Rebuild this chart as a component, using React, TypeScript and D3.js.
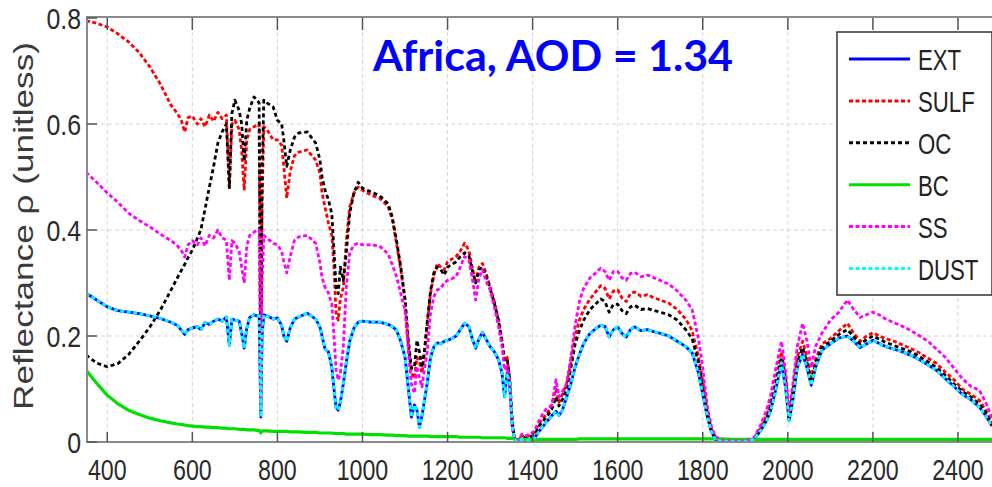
import React from "react";
import * as d3 from "d3";

const wavelengths = [
  350,375,400,425,450,475,500,525,550,
  565,575,582,590,600,612,620,630,640,650,660,670,680,687,693,
  700,710,716,722,728,735,745,752,757,761,764,768,775,790,
  800,810,815,822,830,840,850,870,890,900,905,912,920,928,933,938,943,948,955,962,970,980,990,
  1000,1020,1040,1060,1070,1080,1090,1100,
  1108,1115,1122,1128,1134,1140,1146,1152,1160,1168,1176,1184,1192,1200,
  1210,1220,1230,1240,1250,1258,1266,1274,1282,1290,1300,1310,1320,1328,1334,1340,1346,1352,
  1358,1365,1375,1385,1395,1405,1415,1425,1435,1445,1455,1462,1470,1480,1490,1500,
  1510,1520,1535,1550,1560,1570,1580,1590,1600,1610,1620,1630,1640,1655,1670,1685,1700,
  1720,1740,1760,1775,1790,1800,1810,1820,1830,1845,1870,1900,
  1920,1935,1950,1960,1972,1985,1995,2003,2012,2022,2035,2045,2055,2065,2080,2100,
  2120,2140,2155,2170,2185,2200,2215,2230,2250,2270,2290,2310,2330,2350,2370,2390,2410,2430,2450,2465,2480,
];

const ext = [
  .281,.268,.255,.248,.245,.242,.238,.233,.226,
  .22,.21,.203,.212,.215,.218,.212,.225,.222,.228,.232,.228,.236,.183,.232,
  .23,.228,.205,.177,.215,.235,.24,.238,.238,.047,.2,.24,.238,.232,
  .234,.22,.2,.19,.215,.232,.236,.243,.232,.217,.2,.175,.17,.14,.1,.065,.06,.075,.11,.15,.19,.215,.226,
  .228,.226,.226,.222,.218,.211,.19,.16,
  .1,.047,.07,.06,.028,.05,.08,.11,.16,.18,.187,.185,.19,.192,
  .195,.2,.212,.224,.218,.195,.177,.195,.207,.195,.18,.17,.155,.13,.085,.13,.11,.03,
  .003,.001,.005,.003,.005,.008,.02,.03,.04,.05,.058,.05,.06,.085,.11,.142,
  .165,.186,.205,.215,.22,.218,.198,.212,.217,.205,.198,.212,.217,.21,.212,.208,.205,
  .2,.19,.18,.168,.13,.09,.05,.02,.004,.001,.001,.001,
  .005,.02,.04,.06,.1,.15,.1,.04,.08,.14,.165,.14,.107,.14,.173,.185,
  .196,.2,.19,.178,.185,.192,.186,.18,.175,.17,.163,.155,.145,.135,.12,.105,.09,.08,.066,.05,.03,
];

const sulf = [
  .795,.79,.783,.77,.755,.735,.708,.675,.635,
  .62,.605,.585,.612,.615,.6,.61,.595,.617,.605,.622,.61,.617,.48,.6,
  .607,.59,.55,.475,.57,.59,.595,.598,.6,.1,.45,.595,.59,.57,
  .57,.56,.52,.46,.51,.54,.547,.551,.532,.507,.47,.443,.413,.39,.33,.24,.23,.27,.292,.381,.443,.47,.481,
  .475,.466,.46,.445,.42,.375,.325,.268,
  .18,.13,.12,.16,.15,.13,.17,.22,.28,.315,.337,.33,.325,.34,
  .345,.35,.36,.375,.362,.33,.3,.33,.337,.32,.293,.265,.23,.19,.155,.16,.12,.04,
  .005,.002,.012,.01,.012,.018,.035,.045,.055,.07,.1,.075,.09,.11,.15,.2,
  .23,.25,.27,.285,.295,.29,.27,.285,.287,.272,.265,.28,.283,.275,.278,.272,.268,
  .262,.25,.232,.21,.16,.115,.06,.025,.008,.002,.001,.001,
  .006,.025,.05,.075,.12,.17,.12,.05,.1,.16,.19,.16,.12,.155,.185,.195,
  .21,.224,.205,.19,.2,.206,.2,.195,.19,.183,.176,.168,.158,.148,.132,.118,.1,.09,.079,.06,.035,
];

const oc = [
  .164,.149,.142,.148,.165,.19,.217,.249,.287,
  .31,.325,.335,.348,.362,.385,.4,.44,.481,.52,.564,.585,.6,.48,.62,
  .645,.626,.6,.53,.607,.63,.651,.645,.64,.12,.5,.645,.64,.632,
  .607,.6,.57,.52,.55,.575,.583,.585,.564,.532,.5,.475,.457,.43,.36,.292,.28,.33,.305,.357,.432,.47,.49,
  .479,.472,.465,.45,.425,.38,.33,.27,
  .19,.14,.14,.192,.17,.14,.175,.225,.285,.32,.33,.325,.315,.33,
  .335,.34,.35,.357,.352,.325,.3,.325,.33,.315,.29,.262,.228,.19,.155,.158,.12,.04,
  .004,.002,.01,.008,.01,.015,.03,.04,.05,.062,.085,.068,.08,.1,.14,.185,
  .21,.23,.25,.262,.27,.265,.245,.26,.26,.248,.242,.255,.258,.25,.252,.248,.245,
  .24,.23,.212,.195,.15,.105,.055,.022,.006,.002,.001,.001,
  .005,.022,.045,.068,.11,.16,.11,.045,.09,.15,.178,.15,.112,.148,.178,.19,
  .203,.212,.198,.185,.193,.2,.194,.188,.182,.176,.17,.161,.151,.14,.126,.11,.096,.085,.072,.055,.032,
];

const bc = [
  .136,.111,.088,.072,.06,.052,.045,.04,.036,
  .034,.033,.032,.031,.03,.029,.029,.028,.028,.027,.027,.026,.026,.025,.025,
  .025,.024,.024,.024,.023,.023,.023,.022,.022,.017,.021,.021,.021,.02,
  .02,.02,.02,.02,.019,.019,.019,.018,.018,.017,.017,.017,.017,.017,.016,.016,.016,.016,.016,.015,.015,.015,.015,
  .015,.014,.014,.013,.013,.012,.012,.012,
  .011,.011,.011,.011,.011,.011,.011,.011,.01,.01,.01,.01,.01,.01,
  .01,.01,.009,.009,.009,.009,.009,.009,.008,.008,.008,.008,.008,.008,.008,.007,.007,.007,
  .006,.005,.005,.005,.005,.005,.005,.005,.005,.005,.005,.005,.005,.005,.005,.005,
  .006,.006,.006,.006,.006,.006,.006,.006,.006,.006,.006,.006,.006,.006,.006,.006,.006,
  .006,.006,.006,.006,.006,.006,.006,.006,.006,.006,.005,.005,
  .005,.005,.005,.005,.005,.005,.005,.005,.005,.005,.005,.005,.005,.005,.005,.005,
  .005,.005,.005,.005,.005,.005,.005,.005,.005,.005,.005,.005,.005,.005,.005,.005,.005,.005,.005,.005,.005,
];

const ss = [
  .509,.49,.47,.452,.432,.418,.406,.392,.38,
  .37,.36,.349,.372,.38,.372,.385,.37,.39,.385,.4,.385,.381,.305,.38,
  .375,.36,.33,.3,.37,.39,.396,.4,.4,.07,.3,.39,.385,.375,
  .372,.36,.34,.319,.35,.38,.387,.39,.375,.338,.31,.292,.281,.26,.2,.136,.117,.13,.18,.292,.357,.372,.375,
  .372,.372,.37,.355,.335,.312,.28,.249,
  .17,.11,.092,.142,.12,.104,.14,.168,.243,.275,.287,.29,.3,.305,
  .308,.312,.33,.35,.343,.31,.268,.31,.325,.305,.287,.255,.217,.18,.136,.142,.11,.03,
  .005,.003,.015,.012,.015,.022,.04,.055,.065,.068,.117,.085,.095,.11,.16,.22,
  .265,.29,.31,.32,.328,.322,.305,.322,.322,.31,.305,.318,.32,.312,.315,.31,.305,
  .298,.285,.268,.25,.195,.14,.07,.03,.01,.003,.002,.002,
  .008,.03,.06,.09,.14,.19,.13,.055,.11,.18,.224,.19,.14,.18,.205,.23,
  .245,.268,.25,.235,.24,.245,.24,.232,.225,.218,.21,.2,.19,.175,.16,.14,.12,.105,.098,.075,.045,
];

const dust = [
  .281,.268,.255,.248,.245,.242,.238,.233,.226,
  .22,.21,.203,.212,.215,.218,.212,.225,.222,.228,.232,.228,.236,.183,.232,
  .23,.228,.205,.177,.215,.235,.24,.238,.238,.047,.2,.24,.238,.232,
  .234,.22,.2,.19,.215,.232,.236,.243,.232,.217,.2,.175,.17,.14,.1,.065,.06,.075,.11,.15,.19,.215,.226,
  .228,.226,.226,.222,.218,.211,.19,.16,
  .1,.047,.07,.06,.028,.05,.08,.11,.16,.18,.187,.185,.19,.192,
  .195,.2,.212,.224,.218,.195,.177,.195,.207,.195,.18,.17,.155,.13,.085,.13,.11,.03,
  .003,.001,.005,.003,.005,.008,.02,.03,.04,.05,.058,.05,.06,.085,.11,.142,
  .165,.186,.205,.215,.22,.218,.198,.212,.217,.205,.198,.212,.217,.21,.212,.208,.205,
  .2,.19,.18,.168,.13,.09,.05,.02,.004,.001,.001,.001,
  .005,.02,.04,.06,.1,.15,.1,.04,.08,.14,.165,.14,.107,.14,.173,.185,
  .196,.2,.19,.178,.185,.192,.186,.18,.175,.17,.163,.155,.145,.135,.12,.105,.09,.08,.066,.05,.03,
];

const seriesNames = ["EXT", "SULF", "OC", "BC", "SS", "DUST"];
const seriesValues = [ext, sulf, oc, bc, ss, dust];
const seriesColors = ["#0000ff", "#ff0000", "#000000", "#00e000", "#ff00ff", "#00ffff"];
const seriesDash = ["", "4,2.5", "4,3", "", "4,2.5", "4,2.5"];

const xTicks = [400, 600, 800, 1000, 1200, 1400, 1600, 1800, 2000, 2200, 2400];
const yTicks = [0, 0.2, 0.4, 0.6, 0.8];
const yTickLabels = ["0", "0.2", "0.4", "0.6", "0.8"];
const titleText = "Africa, AOD = 1.34";
const yAxisLabel = "Reflectance ρ (unitless)";

const W = 992;
const H = 487;
const left = 87;
const right = 992;
const top = 18;
const bottom = 442;

export default function App() {
  const x = d3.scaleLinear().domain([350, 2480]).range([86, 992]);
  const y = d3.scaleLinear().domain([0, 0.8]).range([bottom, top]);
  const line = d3
    .line<[number, number]>()
    .x((d) => x(d[0]))
    .y((d) => y(d[1]));

  const axisColor = "#8a8a8a";
  const labelColor = "#2a2a2a";
  const font = "'Liberation Sans', Arial, sans-serif";

  return (
    <svg
      width={W}
      height={H}
      style={{ position: "absolute", left: 0, top: 0, background: "#fff" }}
      fontFamily={font}
    >
      <defs>
        <clipPath id="plotclip">
          <rect x={left} y={top - 2} width={right - left} height={bottom - top + 2} />
        </clipPath>
      </defs>
      <rect x={0} y={0} width={W} height={H} fill="#fff" />

      {/* grid */}
      {xTicks.map((t) => (
        <line key={"gx" + t} x1={x(t)} x2={x(t)} y1={top} y2={bottom}
          stroke="#d4d4d4" strokeWidth={1} strokeDasharray="4,3" />
      ))}
      {yTicks.slice(1, 4).map((t) => (
        <line key={"gy" + t} x1={left} x2={right} y1={y(t)} y2={y(t)}
          stroke="#d4d4d4" strokeWidth={1} strokeDasharray="4,3" />
      ))}

      {/* series */}
      <g clipPath="url(#plotclip)">
        {seriesValues.map((vals, i) => {
          const pts: [number, number][] = wavelengths
            .slice(0, vals.length)
            .map((w, k) => [w, vals[k]]);
          return (
            <path
              key={seriesNames[i]}
              d={line(pts) || ""}
              fill="none"
              stroke={seriesColors[i]}
              strokeWidth={i === 3 ? 3.2 : 2.8}
              strokeDasharray={seriesDash[i] || undefined}
              strokeLinejoin="round"
            />
          );
        })}
      </g>

      {/* axes box */}
      <line x1={left} x2={right} y1={top - 1} y2={top - 1} stroke={axisColor} strokeWidth={2} />
      <line x1={left} x2={right} y1={bottom} y2={bottom} stroke={axisColor} strokeWidth={2} />
      <line x1={left} x2={left} y1={top - 2} y2={bottom + 1} stroke={axisColor} strokeWidth={2} />
      {xTicks.map((t) => (
        <g key={"tx" + t}>
          <line x1={x(t)} x2={x(t)} y1={top} y2={top + 12} stroke="#555" strokeWidth={1.5} />
          <line x1={x(t)} x2={x(t)} y1={bottom} y2={bottom - 10} stroke="#555" strokeWidth={1.5} />
          <text
            transform={`translate(${x(t)},${480}) scale(0.8,1)`}
            textAnchor="middle"
            fontSize={29}
            fill={labelColor}
          >
            {t}
          </text>
        </g>
      ))}
      {yTicks.map((t, i) => (
        <g key={"ty" + t}>
          <line x1={left} x2={left + 10} y1={y(t)} y2={y(t)} stroke="#555" strokeWidth={1.5} />
          <text
            transform={`translate(${81},${y(t) + 11}) scale(0.83,1)`}
            textAnchor="end"
            fontSize={30}
            fill={labelColor}
          >
            {yTickLabels[i]}
          </text>
        </g>
      ))}

      {/* y axis label */}
      <text
        transform={`translate(${33},${226}) rotate(-90)`}
        textAnchor="middle"
        fontSize={27}
        fill="#3a3a3a"
        textLength={368}
        lengthAdjust="spacingAndGlyphs"
      >
        {yAxisLabel}
      </text>

      {/* title */}
      <text
        x={373}
        y={71}
        fontFamily="Lato, 'Open Sans', sans-serif"
        fontWeight="bold"
        fontSize={42}
        fill="#0000ff"
        textLength={360}
        lengthAdjust="spacingAndGlyphs"
      >
        {titleText}
      </text>

      {/* legend */}
      <g>
        <rect x={837} y={32} width={155} height={263} fill="#fff" stroke="#333" strokeWidth={1.5} />
        {seriesNames.map((name, i) => {
          const ry = 59 + i * 41.9;
          return (
            <g key={"lg" + name}>
              <line x1={849} x2={910} y1={ry} y2={ry}
                stroke={seriesColors[i]} strokeWidth={3}
                strokeDasharray={seriesDash[i] || undefined} />
              <text
                transform={`translate(${918},${ry + 11}) scale(0.74,1)`}
                fontSize={30}
                fill="#222"
              >
                {name}
              </text>
            </g>
          );
        })}
      </g>
    </svg>
  );
}
